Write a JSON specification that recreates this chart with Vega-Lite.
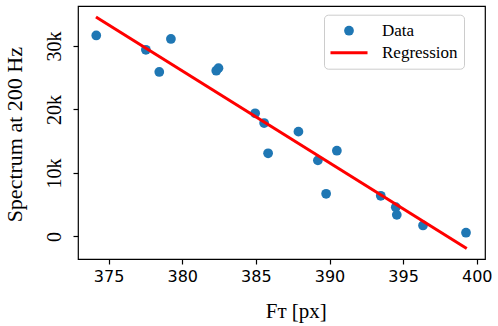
{
  "$schema": "https://vega.github.io/schema/vega-lite/v6.json",
  "width": 407,
  "height": 253,
  "autosize": {"type": "none"},
  "padding": {"left": 78, "top": 6, "right": 13, "bottom": 67},
  "background": "#ffffff",
  "config": {
    "view": {"stroke": "#000000", "strokeWidth": 1.2},
    "axis": {"grid": false, "domain": false, "tickColor": "#000000", "tickSize": 5, "tickWidth": 1.2, "labelColor": "#000000", "titleColor": "#000000", "labelOverlap": false, "labelFlush": false},
    "legend": {"labelFont": "Liberation Serif", "labelFontSize": 17, "labelColor": "#000000", "strokeColor": "#cccccc", "fillColor": "#ffffff", "cornerRadius": 4}
  },
  "datasets": {
    "pts": [
      {"ft": 374.16, "spec": 31650, "series": "Data"},
      {"ft": 377.53, "spec": 29400, "series": "Data"},
      {"ft": 378.44, "spec": 25900, "series": "Data"},
      {"ft": 379.23, "spec": 31100, "series": "Data"},
      {"ft": 382.31, "spec": 26100, "series": "Data"},
      {"ft": 382.46, "spec": 26500, "series": "Data"},
      {"ft": 384.95, "spec": 19400, "series": "Data"},
      {"ft": 385.56, "spec": 17860, "series": "Data"},
      {"ft": 385.83, "spec": 13100, "series": "Data"},
      {"ft": 387.89, "spec": 16500, "series": "Data"},
      {"ft": 389.21, "spec": 11970, "series": "Data"},
      {"ft": 390.50, "spec": 13500, "series": "Data"},
      {"ft": 389.77, "spec": 6720, "series": "Data"},
      {"ft": 393.48, "spec": 6400, "series": "Data"},
      {"ft": 394.50, "spec": 4600, "series": "Data"},
      {"ft": 394.57, "spec": 3400, "series": "Data"},
      {"ft": 396.35, "spec": 1730, "series": "Data"},
      {"ft": 399.27, "spec": 580, "series": "Data"}
    ],
    "reg": [
      {"ft": 374.14, "spec": 34550},
      {"ft": 399.32, "spec": -1890}
    ]
  },
  "layer": [
    {
      "data": {"name": "pts"},
      "mark": {"type": "point", "filled": true, "size": 95, "opacity": 1},
      "encoding": {
        "x": {
          "field": "ft", "type": "quantitative",
          "scale": {"domain": [372.92, 400.56], "nice": false, "zero": false},
          "axis": {
            "values": [375, 380, 385, 390, 395, 400],
            "labelFont": "DejaVu Sans", "labelFontSize": 16, "labelPadding": 4,
            "title": "Fᴛ [px]", "titleFont": "Liberation Serif", "titleFontSize": 21, "titleFontWeight": "normal",
            "titleX": 217.8, "titleY": 58.5, "titleAlign": "center", "titleBaseline": "alphabetic"
          }
        },
        "y": {
          "field": "spec", "type": "quantitative",
          "scale": {"domain": [-3555, 36292], "nice": false, "zero": false},
          "axis": {
            "values": [0, 10000, 20000, 30000],
            "labelExpr": "datum.value == 0 ? '0' : (datum.value / 1000) + 'k'",
            "labelAngle": -90, "labelAlign": "center", "labelBaseline": "alphabetic", "labelPadding": 12.7,
            "labelFont": "Liberation Serif", "labelFontSize": 20,
            "title": "Spectrum at 200 Hz", "titleFont": "Liberation Serif", "titleFontSize": 22, "titleFontWeight": "normal",
            "titleAngle": -90, "titleX": -56.5, "titleY": 128.2, "titleAlign": "center", "titleBaseline": "alphabetic"
          }
        },
        "color": {
          "field": "series", "type": "nominal",
          "scale": {"domain": ["Data", "Regression"], "range": ["#1f77b4", "#ff0000"]},
          "legend": {
            "title": null, "orient": "none", "legendX": 246, "legendY": 8.7,
            "padding": 6, "fillColor": "#ffffff", "strokeColor": "#cccccc", "cornerRadius": 4,
            "labelFont": "Liberation Serif", "labelFontSize": 17, "labelColor": "#000000", "labelOffset": 24.5,
            "symbolSize": 95, "symbolOffset": 10.5, "symbolStrokeWidth": 0, "symbolOpacity": 1,
            "clipHeight": 20, "rowPadding": 2
          }
        },
        "shape": {
          "field": "series", "type": "nominal",
          "scale": {"domain": ["Data", "Regression"], "range": ["circle", "M-3.8,-0.31H3.8V0.31H-3.8Z"]},
          "legend": {
            "title": null, "orient": "none", "legendX": 246, "legendY": 8.7,
            "padding": 6, "fillColor": "#ffffff", "strokeColor": "#cccccc", "cornerRadius": 4,
            "labelFont": "Liberation Serif", "labelFontSize": 17, "labelColor": "#000000", "labelOffset": 24.5,
            "symbolSize": 95, "symbolOffset": 10.5, "symbolStrokeWidth": 0, "symbolOpacity": 1,
            "clipHeight": 20, "rowPadding": 2
          }
        }
      }
    },
    {
      "data": {"name": "reg"},
      "mark": {"type": "line", "strokeWidth": 3, "color": "#ff0000"},
      "encoding": {
        "x": {"field": "ft", "type": "quantitative"},
        "y": {"field": "spec", "type": "quantitative"}
      }
    }
  ]
}
